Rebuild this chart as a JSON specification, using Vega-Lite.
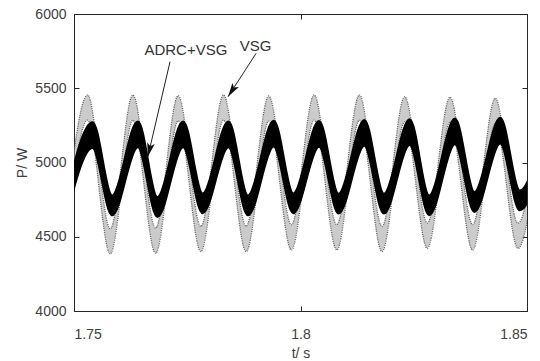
{
  "$schema": "https://vega.github.io/schema/vega-lite/v6.json",
  "width": 453,
  "height": 297,
  "autosize": {"type": "none"},
  "padding": {"left": 74, "top": 14, "right": 13, "bottom": 50},
  "background": "white",
  "datasets": {
    "vsg": [
      {"t": 1.748, "hi": 4565, "lo": 4395},
      {"t": 1.753, "hi": 5455, "lo": 5285},
      {"t": 1.758, "hi": 4554, "lo": 4384},
      {"t": 1.763, "hi": 5455, "lo": 5285},
      {"t": 1.768, "hi": 4559, "lo": 4389},
      {"t": 1.773, "hi": 5450, "lo": 5280},
      {"t": 1.778, "hi": 4570, "lo": 4400},
      {"t": 1.783, "hi": 5455, "lo": 5285},
      {"t": 1.788, "hi": 4570, "lo": 4400},
      {"t": 1.793, "hi": 5448, "lo": 5278},
      {"t": 1.798, "hi": 4581, "lo": 4411},
      {"t": 1.803, "hi": 5455, "lo": 5285},
      {"t": 1.808, "hi": 4581, "lo": 4411},
      {"t": 1.813, "hi": 5455, "lo": 5285},
      {"t": 1.818, "hi": 4570, "lo": 4400},
      {"t": 1.823, "hi": 5443, "lo": 5273},
      {"t": 1.828, "hi": 4592, "lo": 4422},
      {"t": 1.833, "hi": 5440, "lo": 5270},
      {"t": 1.838, "hi": 4581, "lo": 4411},
      {"t": 1.843, "hi": 5432, "lo": 5262},
      {"t": 1.848, "hi": 4592, "lo": 4422},
      {"t": 1.853, "hi": 5440, "lo": 5270}
    ],
    "adrc": [
      {"t": 1.7484, "hi": 4780, "lo": 4650},
      {"t": 1.7541, "hi": 5270, "lo": 5100},
      {"t": 1.7584, "hi": 4776, "lo": 4646},
      {"t": 1.7641, "hi": 5275, "lo": 5105},
      {"t": 1.7684, "hi": 4765, "lo": 4635},
      {"t": 1.7741, "hi": 5275, "lo": 5105},
      {"t": 1.7784, "hi": 4790, "lo": 4660},
      {"t": 1.7841, "hi": 5275, "lo": 5105},
      {"t": 1.7884, "hi": 4776, "lo": 4646},
      {"t": 1.7941, "hi": 5280, "lo": 5110},
      {"t": 1.7984, "hi": 4790, "lo": 4660},
      {"t": 1.8041, "hi": 5278, "lo": 5108},
      {"t": 1.8084, "hi": 4788, "lo": 4658},
      {"t": 1.8141, "hi": 5285, "lo": 5115},
      {"t": 1.8184, "hi": 4788, "lo": 4658},
      {"t": 1.8241, "hi": 5290, "lo": 5120},
      {"t": 1.8284, "hi": 4776, "lo": 4646},
      {"t": 1.8341, "hi": 5295, "lo": 5125},
      {"t": 1.8384, "hi": 4799, "lo": 4669},
      {"t": 1.8441, "hi": 5300, "lo": 5130},
      {"t": 1.8484, "hi": 4810, "lo": 4680},
      {"t": 1.8541, "hi": 5290, "lo": 5120}
    ],
    "arrows": [
      {"name": "ADRC+VSG", "t1": 1.7712, "p1": 5679, "t2": 1.7663, "p2": 5039},
      {"name": "VSG", "t1": 1.7902, "p1": 5735, "t2": 1.784, "p2": 5443}
    ],
    "labels": [
      {"label": "ADRC+VSG", "t": 1.7747, "p": 5758},
      {"label": "VSG", "t": 1.7901, "p": 5785}
    ]
  },
  "resolve": {"axis": {"x": "independent", "y": "independent"}},
  "layer": [
    {
      "data": {"name": "vsg"},
      "mark": {"type": "area", "interpolate": "monotone", "clip": true, "fill": "#a8a8a8", "fillOpacity": 0.6, "stroke": "#5e5e5e", "strokeWidth": 1.3, "strokeDash": [1, 1.2]},
      "encoding": {
        "x": {"field": "t", "type": "quantitative", "scale": {"domain": [1.75, 1.85], "nice": false, "zero": false},
          "axis": {"orient": "bottom", "values": [1.75, 1.8, 1.85], "format": "~g", "title": "t/ s", "tickSize": -5, "labelPadding": 21, "titlePadding": 5}},
        "y": {"field": "hi", "type": "quantitative", "scale": {"domain": [4000, 6000], "nice": false, "zero": false},
          "axis": {"orient": "left", "values": [4000, 4500, 5000, 5500, 6000], "format": "d", "title": "P/ W", "tickSize": -5, "labelPadding": 13, "titlePadding": 5}},
        "y2": {"field": "lo"}
      }
    },
    {
      "data": {"name": "adrc"},
      "mark": {"type": "area", "interpolate": "monotone", "clip": true, "fill": "#000000", "stroke": "#000000", "strokeWidth": 2.5},
      "encoding": {
        "x": {"field": "t", "type": "quantitative", "scale": {"domain": [1.75, 1.85], "nice": false, "zero": false},
          "axis": {"orient": "top", "values": [1.75, 1.8, 1.85], "labels": false, "title": null, "tickSize": -5}},
        "y": {"field": "hi", "type": "quantitative", "scale": {"domain": [4000, 6000], "nice": false, "zero": false},
          "axis": {"orient": "right", "values": [4000, 4500, 5000, 5500, 6000], "labels": false, "title": null, "tickSize": -5}},
        "y2": {"field": "lo"}
      }
    },
    {
      "data": {"name": "arrows"},
      "mark": {"type": "rule", "color": "#222222", "strokeWidth": 1},
      "encoding": {
        "x": {"field": "t1", "type": "quantitative", "scale": {"domain": [1.75, 1.85], "nice": false, "zero": false}, "axis": null},
        "y": {"field": "p1", "type": "quantitative", "scale": {"domain": [4000, 6000], "nice": false, "zero": false}, "axis": null},
        "x2": {"field": "t2"},
        "y2": {"field": "p2"}
      }
    },
    {
      "data": {"name": "arrows"},
      "transform": [{"filter": "datum.name === 'ADRC+VSG'"}],
      "mark": {"type": "point", "shape": "M0,0L-0.55,2L0,1.55L0.55,2Z", "size": 196, "filled": true, "color": "#111111", "opacity": 1, "angle": 193},
      "encoding": {
        "x": {"field": "t2", "type": "quantitative", "scale": {"domain": [1.75, 1.85], "nice": false, "zero": false}, "axis": null},
        "y": {"field": "p2", "type": "quantitative", "scale": {"domain": [4000, 6000], "nice": false, "zero": false}, "axis": null}
      }
    },
    {
      "data": {"name": "arrows"},
      "transform": [{"filter": "datum.name === 'VSG'"}],
      "mark": {"type": "point", "shape": "M0,0L-0.55,2L0,1.55L0.55,2Z", "size": 196, "filled": true, "color": "#111111", "opacity": 1, "angle": 213},
      "encoding": {
        "x": {"field": "t2", "type": "quantitative", "scale": {"domain": [1.75, 1.85], "nice": false, "zero": false}, "axis": null},
        "y": {"field": "p2", "type": "quantitative", "scale": {"domain": [4000, 6000], "nice": false, "zero": false}, "axis": null}
      }
    },
    {
      "data": {"name": "labels"},
      "mark": {"type": "text", "font": "Liberation Sans", "fontSize": 15, "fontWeight": "normal", "color": "#333333", "align": "center", "baseline": "middle"},
      "encoding": {
        "x": {"field": "t", "type": "quantitative", "scale": {"domain": [1.75, 1.85], "nice": false, "zero": false}, "axis": null},
        "y": {"field": "p", "type": "quantitative", "scale": {"domain": [4000, 6000], "nice": false, "zero": false}, "axis": null},
        "text": {"field": "label"}
      }
    }
  ],
  "config": {
    "view": {"stroke": "#262626", "strokeWidth": 1},
    "axis": {
      "grid": false,
      "domainColor": "#262626",
      "tickColor": "#262626",
      "labelColor": "#404040",
      "labelFont": "Liberation Sans",
      "labelFontSize": 14,
      "titleFont": "Liberation Sans",
      "titleFontSize": 14,
      "titleFontWeight": "normal",
      "titleColor": "#404040"
    }
  }
}
